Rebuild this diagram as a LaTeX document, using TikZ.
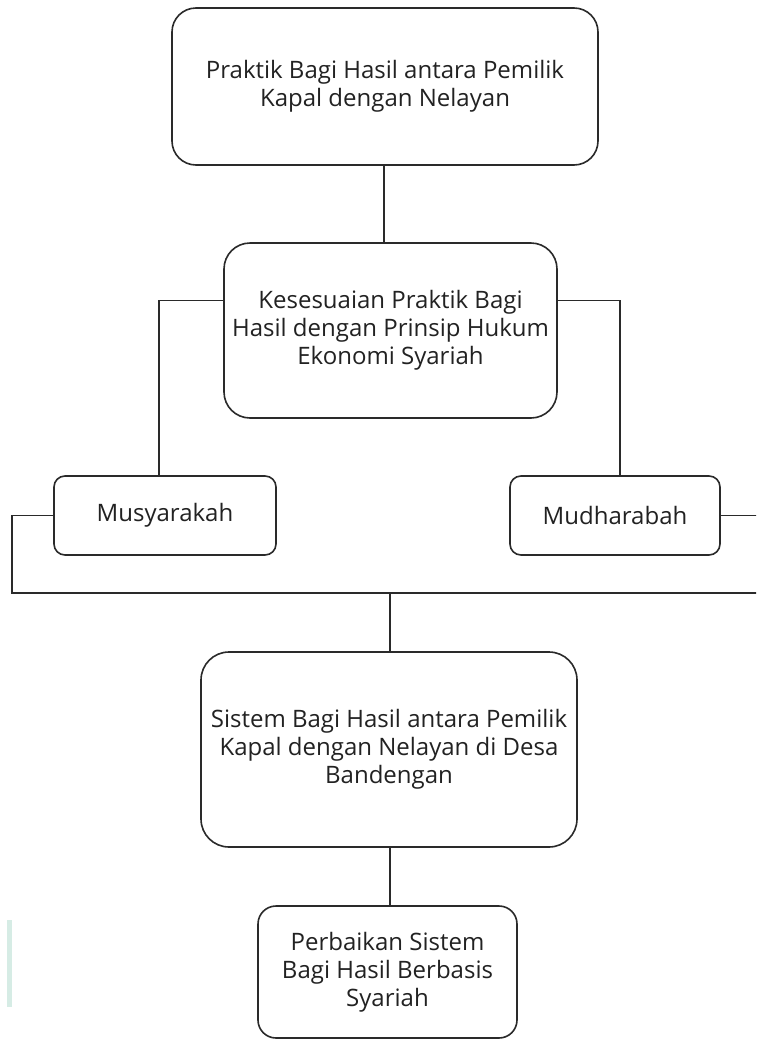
\documentclass[tikz,border=0pt]{standalone}
\usepackage{fontspec}
\setmainfont{Open Sans}
\definecolor{linec}{HTML}{2A2A2A}
\definecolor{textc}{HTML}{222222}
\definecolor{artc}{RGB}{214,236,229}
\tikzset{
  box/.style={draw=linec, line width=1.6pt, rounded corners=#1, fill=white,
    align=center, text=textc, inner sep=0pt,
    font=\fontsize{24}{28}\selectfont},
  box/.default=24pt,
  conn/.style={draw=linec, line width=1.6pt}
}
\begin{document}
\begin{tikzpicture}[x=1pt,y=-1pt]
\useasboundingbox (0,0) rectangle (756,1039);
\clip (0,0) rectangle (756,1039);
\fill[white] (0,0) rectangle (756,1039);
\fill[artc] (7,920) rectangle (12,1007);

\node[box, minimum width=426pt, minimum height=157pt] (b1) at (385,86.5)
  {Praktik Bagi Hasil antara Pemilik\\Kapal dengan Nelayan};
\node[box=26pt, minimum width=333pt, minimum height=175pt] (b2) at (390.5,330.5)
  {Kesesuaian Praktik Bagi\\Hasil dengan Prinsip Hukum\\Ekonomi Syariah};
\node[box=11pt, minimum width=222pt, minimum height=79pt] (musy) at (165,515.5)
  {Musyarakah};
\node[box=11pt, minimum width=210pt, minimum height=79pt] (mudh) at (615,515.5)
  {Mudharabah};
\node[box=28pt, minimum width=376pt, minimum height=195pt] (b4) at (389,749.5)
  {Sistem Bagi Hasil antara Pemilik\\Kapal dengan Nelayan di Desa\\Bandengan};
\node[box=18pt, minimum width=259pt, minimum height=132pt] (b5) at (387.5,972)
  {Perbaikan Sistem\\Bagi Hasil Berbasis\\Syariah};

\coordinate (busL) at (12,593);
\coordinate (busR) at (775,593);
\coordinate (bus) at (390,593);

\draw[conn] ([xshift=-1pt]b1.south) -- ([xshift=-1pt]b1.south |- b2.north);
\draw[conn] ([yshift=30pt]b2.west) -| ([xshift=-6pt]musy.north);
\draw[conn] ([yshift=30pt]b2.east) -| ([xshift=5pt]mudh.north);
\draw[conn] (musy.west) -| (busL) -- (busR);
\draw[conn] (mudh.east) -| (busR);
\draw[conn] (bus) -- (bus |- b4.north);
\draw[conn] (bus |- b4.south) -- (bus |- b5.north);
\end{tikzpicture}
\end{document}
